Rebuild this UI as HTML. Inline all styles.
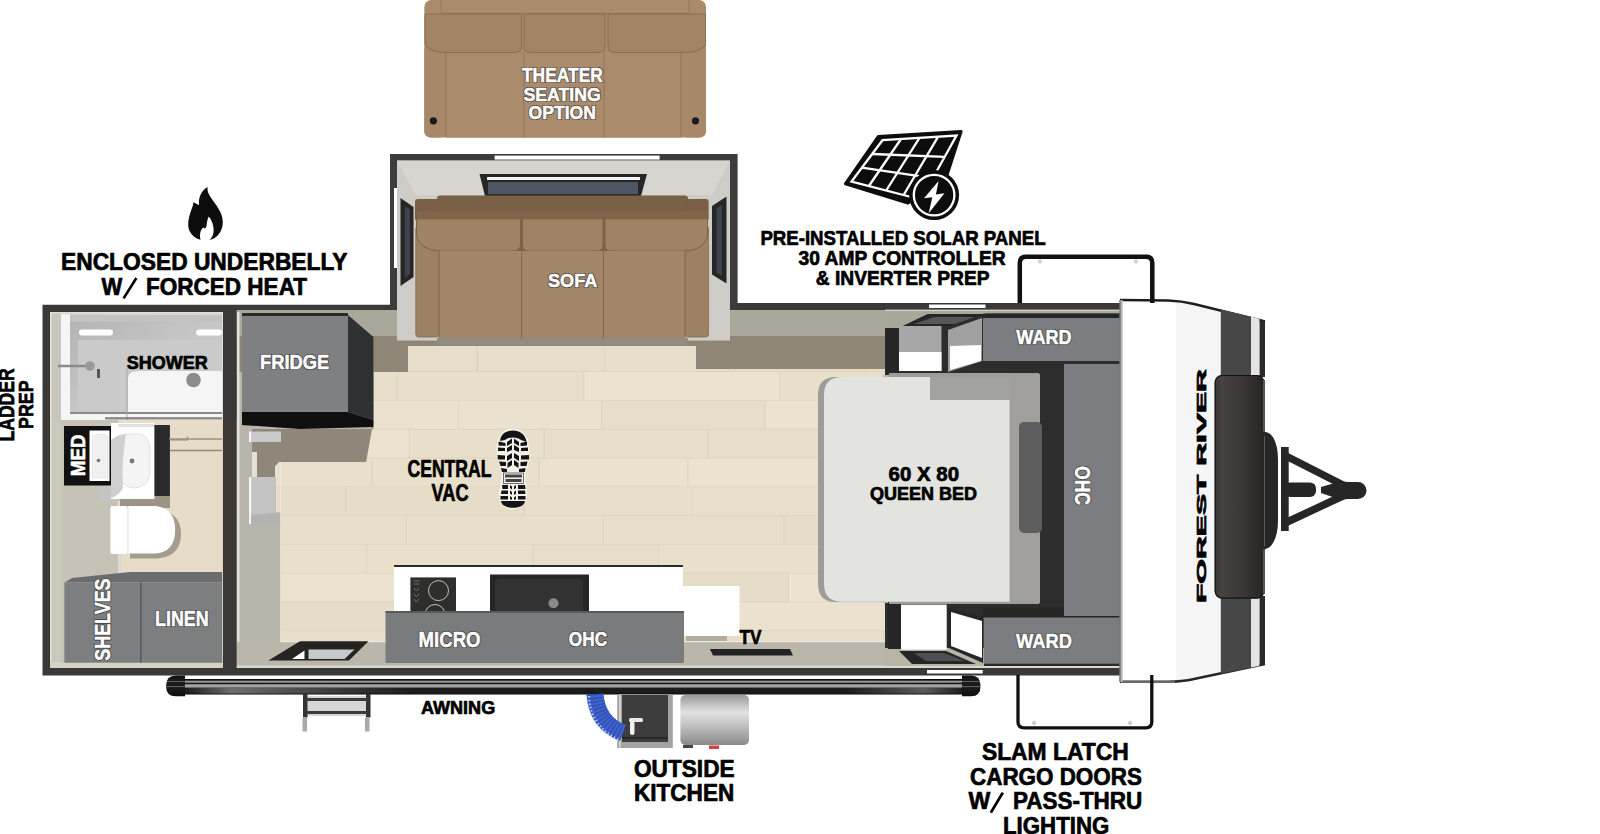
<!DOCTYPE html>
<html><head><meta charset="utf-8"><title>Floorplan</title>
<style>
html,body{margin:0;padding:0;background:#fff;}
body{width:1600px;height:834px;overflow:hidden;}
svg{display:block;}
text{font-family:"Liberation Sans",sans-serif;font-weight:bold;}
</style></head><body>
<svg width="1600" height="834" viewBox="0 0 1600 834">
<defs>
<linearGradient id="gTube" x1="0" y1="0" x2="0" y2="1">
 <stop offset="0" stop-color="#2a2a2a"/><stop offset="0.35" stop-color="#1a1a1a"/>
 <stop offset="0.5" stop-color="#8a8a8a"/><stop offset="0.62" stop-color="#222"/>
 <stop offset="1" stop-color="#111"/></linearGradient>
<linearGradient id="gTank" x1="0" y1="0" x2="0" y2="1">
 <stop offset="0" stop-color="#9a9a9a"/><stop offset="0.35" stop-color="#e2e2e2"/>
 <stop offset="0.7" stop-color="#b5b5b5"/><stop offset="1" stop-color="#8a8a8a"/></linearGradient>
<linearGradient id="gWin" x1="0" y1="0" x2="1" y2="0">
 <stop offset="0" stop-color="#3a3736"/><stop offset="0.15" stop-color="#45423f"/><stop offset="0.6" stop-color="#393534"/><stop offset="1" stop-color="#282424"/></linearGradient>
</defs>
<rect x="0" y="0" width="1600" height="834" fill="#fff"/>
<g id="theater">
<rect x="424.3" y="0" width="281.7" height="137.6" rx="7" fill="#a98a6a"/>
<rect x="441" y="0" width="248" height="13.6" fill="#aa8c6c"/>
<line x1="441" y1="13.4" x2="689" y2="13.4" stroke="#93765a" stroke-width="1"/>
<line x1="441" y1="0" x2="441" y2="13.4" stroke="#93765a" stroke-width="0.8"/>
<line x1="689" y1="0" x2="689" y2="13.4" stroke="#93765a" stroke-width="0.8"/>
<rect x="424.3" y="44" width="21.7" height="93.6" rx="6" fill="#a78868"/>
<rect x="681" y="44" width="25" height="93.6" rx="6" fill="#a78868"/>
<rect x="446" y="52" width="235" height="85.6" fill="#aa8c6d"/>
<line x1="446" y1="50" x2="446" y2="137" stroke="#8e7256" stroke-width="1"/>
<line x1="681" y1="50" x2="681" y2="137" stroke="#8e7256" stroke-width="1"/>
<line x1="524" y1="52" x2="524" y2="137" stroke="#8e7256" stroke-width="0.8"/>
<line x1="604" y1="52" x2="604" y2="137" stroke="#8e7256" stroke-width="0.8"/>
<path d="M425,14 H521.5 V46 Q521.5,52.5 514,52.5 H446 Q428,52 425,44 Z" fill="#a38464" stroke="#8a6d51" stroke-width="1"/>
<path d="M524,14 H605 V46 Q605,52.5 598,52.5 H531 Q524,52.5 524,46 Z" fill="#a38464" stroke="#8a6d51" stroke-width="1"/>
<path d="M608,14 H705.5 V44 Q702,52 686,52.5 H615 Q608,52.5 608,46 Z" fill="#a38464" stroke="#8a6d51" stroke-width="1"/>
<circle cx="433.4" cy="120.8" r="3.6" fill="#1b1820"/>
<circle cx="695.5" cy="120.8" r="3.6" fill="#1b1820"/>
</g>
<g id="body">
<polygon points="42.5,304.8 390,304.8 390,303 1121,303 1121,675.4 42.5,675.4" fill="#3a3937"/>
<!-- bath interior -->
<rect x="50" y="312" width="173" height="356" fill="#cbc8bc"/>
<rect x="50" y="312" width="173" height="1.6" fill="#e2dfd3"/>
<rect x="50" y="312" width="1.6" height="356" fill="#e2dfd3"/>
<rect x="50" y="662" width="173" height="6" fill="#d6d2c4"/>
<rect x="61" y="321" width="161.5" height="342" fill="#c6c2b5"/>
<rect x="118" y="420" width="104.5" height="155" fill="#e6dcc7"/>
<!-- main interior base -->
<rect x="236.5" y="310" width="884.5" height="358" fill="#b9b5a8"/>
</g>
<g id="interior">
<rect x="236.5" y="310" width="650" height="27" fill="#aaa79b"/>
<rect x="236.5" y="336" width="650" height="36" fill="#8e8778"/>
<!-- left wall face -->
<rect x="236.5" y="420" width="45" height="225" fill="#b7b5ac"/>
<rect x="237" y="312" width="2.5" height="352" fill="#e4e2da"/>
<!-- wood floor -->
<clipPath id="woodClip"><polygon points="408,346 696,346 696,369 885,369 885,642 281,642 281,518 275,518 275,466 279,462 366,462 374,420 374,372 408,372"/></clipPath><g clip-path="url(#woodClip)"><rect x="221.4" y="343.0" width="132.1" height="28.8" fill="#ebe2cf"/><rect x="352.7" y="343.0" width="0.8" height="28.8" fill="#dcd2bd"/><rect x="353.5" y="343.0" width="123.9" height="28.8" fill="#e7dec9"/><rect x="476.6" y="343.0" width="0.8" height="28.8" fill="#dcd2bd"/><rect x="477.4" y="343.0" width="127.5" height="28.8" fill="#e7dec9"/><rect x="604.1" y="343.0" width="0.8" height="28.8" fill="#dcd2bd"/><rect x="604.9" y="343.0" width="124.6" height="28.8" fill="#e7dec9"/><rect x="728.7" y="343.0" width="0.8" height="28.8" fill="#dcd2bd"/><rect x="729.5" y="343.0" width="137.2" height="28.8" fill="#e8dfcb"/><rect x="865.9" y="343.0" width="0.8" height="28.8" fill="#dcd2bd"/><rect x="866.7" y="343.0" width="154.7" height="28.8" fill="#e8dfcb"/><rect x="1020.6" y="343.0" width="0.8" height="28.8" fill="#dcd2bd"/><rect x="270" y="371.2" width="620" height="0.7" fill="#ddd3bf"/><rect x="233.9" y="371.8" width="164.1" height="28.8" fill="#e8dfcb"/><rect x="397.2" y="371.8" width="0.8" height="28.8" fill="#dcd2bd"/><rect x="398.0" y="371.8" width="186.1" height="28.8" fill="#e8dfcb"/><rect x="583.3" y="371.8" width="0.8" height="28.8" fill="#dcd2bd"/><rect x="584.1" y="371.8" width="195.8" height="28.8" fill="#ebe2cf"/><rect x="779.1" y="371.8" width="0.8" height="28.8" fill="#dcd2bd"/><rect x="779.9" y="371.8" width="170.2" height="28.8" fill="#e8dfcb"/><rect x="949.3" y="371.8" width="0.8" height="28.8" fill="#dcd2bd"/><rect x="270" y="400.0" width="620" height="0.7" fill="#ddd3bf"/><rect x="183.4" y="400.6" width="151.7" height="28.8" fill="#eae1ce"/><rect x="334.4" y="400.6" width="0.8" height="28.8" fill="#dcd2bd"/><rect x="335.2" y="400.6" width="123.7" height="28.8" fill="#eae1ce"/><rect x="458.1" y="400.6" width="0.8" height="28.8" fill="#dcd2bd"/><rect x="458.9" y="400.6" width="143.2" height="28.8" fill="#eae1ce"/><rect x="601.3" y="400.6" width="0.8" height="28.8" fill="#dcd2bd"/><rect x="602.1" y="400.6" width="163.3" height="28.8" fill="#e7dec9"/><rect x="764.5" y="400.6" width="0.8" height="28.8" fill="#dcd2bd"/><rect x="765.3" y="400.6" width="144.7" height="28.8" fill="#ebe2cf"/><rect x="909.2" y="400.6" width="0.8" height="28.8" fill="#dcd2bd"/><rect x="270" y="428.8" width="620" height="0.7" fill="#ddd3bf"/><rect x="242.9" y="429.4" width="166.5" height="28.8" fill="#ebe2cf"/><rect x="408.6" y="429.4" width="0.8" height="28.8" fill="#dcd2bd"/><rect x="409.4" y="429.4" width="135.0" height="28.8" fill="#e8dfcb"/><rect x="543.6" y="429.4" width="0.8" height="28.8" fill="#dcd2bd"/><rect x="544.4" y="429.4" width="163.8" height="28.8" fill="#e8dfcb"/><rect x="707.5" y="429.4" width="0.8" height="28.8" fill="#dcd2bd"/><rect x="708.3" y="429.4" width="165.1" height="28.8" fill="#e7dec9"/><rect x="872.6" y="429.4" width="0.8" height="28.8" fill="#dcd2bd"/><rect x="873.4" y="429.4" width="136.5" height="28.8" fill="#ebe2cf"/><rect x="1009.1" y="429.4" width="0.8" height="28.8" fill="#dcd2bd"/><rect x="270" y="457.6" width="620" height="0.7" fill="#ddd3bf"/><rect x="190.2" y="458.2" width="182.2" height="28.8" fill="#e9e0cc"/><rect x="371.6" y="458.2" width="0.8" height="28.8" fill="#dcd2bd"/><rect x="372.4" y="458.2" width="166.8" height="28.8" fill="#e9e0cc"/><rect x="538.5" y="458.2" width="0.8" height="28.8" fill="#dcd2bd"/><rect x="539.3" y="458.2" width="148.9" height="28.8" fill="#eae1ce"/><rect x="687.4" y="458.2" width="0.8" height="28.8" fill="#dcd2bd"/><rect x="688.2" y="458.2" width="183.6" height="28.8" fill="#ebe2cf"/><rect x="870.9" y="458.2" width="0.8" height="28.8" fill="#dcd2bd"/><rect x="871.7" y="458.2" width="182.4" height="28.8" fill="#e8dfcb"/><rect x="1053.3" y="458.2" width="0.8" height="28.8" fill="#dcd2bd"/><rect x="270" y="486.4" width="620" height="0.7" fill="#ddd3bf"/><rect x="183.8" y="487.0" width="162.0" height="28.8" fill="#e6ddc8"/><rect x="345.1" y="487.0" width="0.8" height="28.8" fill="#dcd2bd"/><rect x="345.9" y="487.0" width="178.4" height="28.8" fill="#e6ddc8"/><rect x="523.4" y="487.0" width="0.8" height="28.8" fill="#dcd2bd"/><rect x="524.2" y="487.0" width="168.7" height="28.8" fill="#e8dfcb"/><rect x="692.1" y="487.0" width="0.8" height="28.8" fill="#dcd2bd"/><rect x="692.9" y="487.0" width="129.4" height="28.8" fill="#e9e0cc"/><rect x="821.6" y="487.0" width="0.8" height="28.8" fill="#dcd2bd"/><rect x="822.4" y="487.0" width="133.2" height="28.8" fill="#e6ddc8"/><rect x="954.8" y="487.0" width="0.8" height="28.8" fill="#dcd2bd"/><rect x="270" y="515.2" width="620" height="0.7" fill="#ddd3bf"/><rect x="247.2" y="515.8" width="159.1" height="28.8" fill="#e8dfcb"/><rect x="405.5" y="515.8" width="0.8" height="28.8" fill="#dcd2bd"/><rect x="406.3" y="515.8" width="197.0" height="28.8" fill="#e8dfcb"/><rect x="602.5" y="515.8" width="0.8" height="28.8" fill="#dcd2bd"/><rect x="603.3" y="515.8" width="181.2" height="28.8" fill="#e7dec9"/><rect x="783.6" y="515.8" width="0.8" height="28.8" fill="#dcd2bd"/><rect x="784.4" y="515.8" width="183.1" height="28.8" fill="#e6ddc8"/><rect x="966.8" y="515.8" width="0.8" height="28.8" fill="#dcd2bd"/><rect x="270" y="544.0" width="620" height="0.7" fill="#ddd3bf"/><rect x="219.0" y="544.6" width="148.0" height="28.8" fill="#e9e0cc"/><rect x="366.2" y="544.6" width="0.8" height="28.8" fill="#dcd2bd"/><rect x="367.0" y="544.6" width="166.4" height="28.8" fill="#e9e0cc"/><rect x="532.6" y="544.6" width="0.8" height="28.8" fill="#dcd2bd"/><rect x="533.4" y="544.6" width="125.5" height="28.8" fill="#e8dfcb"/><rect x="658.1" y="544.6" width="0.8" height="28.8" fill="#dcd2bd"/><rect x="658.9" y="544.6" width="195.6" height="28.8" fill="#e9e0cc"/><rect x="853.7" y="544.6" width="0.8" height="28.8" fill="#dcd2bd"/><rect x="854.5" y="544.6" width="175.8" height="28.8" fill="#e8dfcb"/><rect x="1029.4" y="544.6" width="0.8" height="28.8" fill="#dcd2bd"/><rect x="270" y="572.8" width="620" height="0.7" fill="#ddd3bf"/><rect x="260.9" y="573.4" width="176.1" height="28.8" fill="#ebe2cf"/><rect x="436.2" y="573.4" width="0.8" height="28.8" fill="#dcd2bd"/><rect x="437.0" y="573.4" width="166.2" height="28.8" fill="#ebe2cf"/><rect x="602.5" y="573.4" width="0.8" height="28.8" fill="#dcd2bd"/><rect x="603.3" y="573.4" width="185.8" height="28.8" fill="#e6ddc8"/><rect x="788.2" y="573.4" width="0.8" height="28.8" fill="#dcd2bd"/><rect x="789.0" y="573.4" width="177.3" height="28.8" fill="#ebe2cf"/><rect x="965.5" y="573.4" width="0.8" height="28.8" fill="#dcd2bd"/><rect x="270" y="601.6" width="620" height="0.7" fill="#ddd3bf"/><rect x="217.9" y="602.2" width="195.3" height="28.8" fill="#e6ddc8"/><rect x="412.4" y="602.2" width="0.8" height="28.8" fill="#dcd2bd"/><rect x="413.2" y="602.2" width="133.4" height="28.8" fill="#e8dfcb"/><rect x="545.8" y="602.2" width="0.8" height="28.8" fill="#dcd2bd"/><rect x="546.6" y="602.2" width="159.5" height="28.8" fill="#eae1ce"/><rect x="705.3" y="602.2" width="0.8" height="28.8" fill="#dcd2bd"/><rect x="706.1" y="602.2" width="181.5" height="28.8" fill="#eae1ce"/><rect x="886.8" y="602.2" width="0.8" height="28.8" fill="#dcd2bd"/><rect x="887.6" y="602.2" width="179.1" height="28.8" fill="#e9e0cc"/><rect x="1065.9" y="602.2" width="0.8" height="28.8" fill="#dcd2bd"/><rect x="270" y="630.4" width="620" height="0.7" fill="#ddd3bf"/><rect x="211.4" y="631.0" width="189.7" height="28.8" fill="#e8dfcb"/><rect x="400.3" y="631.0" width="0.8" height="28.8" fill="#dcd2bd"/><rect x="401.1" y="631.0" width="133.3" height="28.8" fill="#e9e0cc"/><rect x="533.6" y="631.0" width="0.8" height="28.8" fill="#dcd2bd"/><rect x="534.4" y="631.0" width="164.0" height="28.8" fill="#eae1ce"/><rect x="697.5" y="631.0" width="0.8" height="28.8" fill="#dcd2bd"/><rect x="698.3" y="631.0" width="185.5" height="28.8" fill="#e7dec9"/><rect x="883.1" y="631.0" width="0.8" height="28.8" fill="#dcd2bd"/><rect x="883.9" y="631.0" width="142.3" height="28.8" fill="#e9e0cc"/><rect x="1025.4" y="631.0" width="0.8" height="28.8" fill="#dcd2bd"/><rect x="270" y="659.2" width="620" height="0.7" fill="#ddd3bf"/></g>
<!-- shadow under fridge -->
<polygon points="252,429 373.4,429 373.4,420 366,462 279,462 275,466 275,478 252,478" fill="#8f887a"/>
<!-- left cabinet -->
<rect x="249" y="431.5" width="32" height="10.5" fill="#cacaca"/>
<rect x="249" y="431.5" width="2" height="10.5" fill="#f4f4f4"/>
<rect x="252" y="452" width="5" height="25" fill="#e4e0d4"/>
<rect x="249" y="477" width="27" height="47" fill="#c3c3c3"/>
<rect x="249" y="477" width="2.2" height="47" fill="#f4f4f4"/>
<polygon points="251,515 281,512 281,525 251,525" fill="#b3b3b1"/>
<!-- bottom greige band -->
<rect x="236.5" y="642" width="650" height="25" fill="#bab6a9"/>
<rect x="236.5" y="665.5" width="884" height="2.5" fill="#dad7cd"/>
<!-- entry step -->
<rect x="281" y="641" width="604" height="1.2" fill="#f0ece2"/>
<rect x="280" y="462" width="1.2" height="180" fill="#f0ece2" opacity="0.7"/>
<polygon points="268.4,660.5 300,641.3 368.5,641.3 349,660.5" fill="#262423"/>
<polygon points="308.5,649.5 354.5,649.5 344.5,659 308.5,659" fill="#c6c8c9"/>
<polygon points="292,659 304.5,650.5 304.5,659" fill="#fff"/>
<!-- fridge -->
<rect x="242" y="315" width="106" height="97" fill="#7f8082"/>
<polygon points="348,315 373.4,337 373.4,420 348,412" fill="#2f3032"/>
<polygon points="242,412 348,412 373.4,420 373.4,427 300,429 242,425" fill="#0f0f0f"/>
<rect x="242" y="313" width="106" height="3" fill="#2a2a2a"/>
<!-- kitchen -->
<rect x="394" y="565" width="289" height="3" fill="#2b2b2b"/>
<rect x="394" y="567" width="289" height="44" fill="#fff"/>
<rect x="683" y="586" width="56.5" height="50" fill="#fff"/>
<rect x="686" y="636" width="41" height="5" fill="#b0ad9e"/>
<rect x="410.4" y="577.4" width="45.6" height="34" fill="#2e2e2c"/>
<circle cx="438.5" cy="590.6" r="10" fill="none" stroke="#d9d2bd" stroke-width="0.9"/>
<circle cx="435" cy="614.5" r="10" fill="none" stroke="#d9d2bd" stroke-width="0.9"/>
<g fill="none" stroke="#8a8a80" stroke-width="0.7"><path d="M413.5,581 h6 M413.5,584 h6 M414,588 l2.5,3 l2.5,-3 M414,594 l2.5,3 l2.5,-3 M414,599 l2.5,3 l2.5,-3"/></g>
<rect x="490" y="574.5" width="99" height="37" fill="#262626"/>
<rect x="495" y="579" width="88" height="33" rx="4" fill="#323232"/>
<circle cx="553.5" cy="603.3" r="5" fill="#8a8a8a"/>
<rect x="385.5" y="611" width="298.5" height="52" rx="1.5" fill="#7a7b7d"/>
<rect x="385.5" y="611" width="298.5" height="2" fill="#5a5b5d"/>
<!-- TV -->
<polygon points="710,649 790,649 793,655.5 713,655.5" fill="#232323"/>
</g>
<g id="slide">
<rect x="390" y="154" width="347.6" height="156" fill="#3d3c3a"/>
<rect x="494.6" y="155.6" width="165" height="4" fill="#fff"/>
<rect x="394" y="188" width="3" height="80" fill="#fff"/>
<rect x="397" y="160.6" width="333" height="180" fill="#cdccc6"/>
<polygon points="397,160.6 730,160.6 712,195 415,195" fill="#d6d5d0"/>
<polygon points="479.5,174 647,174 641,196 485,196" fill="#262626"/>
<rect x="487" y="177" width="153" height="3" fill="#f4f4f4"/>
<rect x="488" y="182" width="150" height="12" fill="#4f5663"/>
<polygon points="400.5,198 413.5,207 413.5,277 400.5,286" fill="#262626"/>
<polygon points="405,206 410,209.5 410,274 405,278" fill="#3d434d"/>
<polygon points="726.5,196.6 712,206 712,274.5 726.5,283.5" fill="#262626"/>
<polygon points="722,205 716.5,208.5 716.5,272.5 722,276" fill="#3d434d"/>
</g>
<g id="sofa">
<rect x="415" y="199" width="24" height="22" rx="3" fill="#7a5f46"/>
<rect x="437" y="195.6" width="251" height="23" rx="3" fill="#7b6048"/>
<rect x="686" y="199" width="22.6" height="22" rx="3" fill="#7a5f46"/>
<rect x="417" y="211" width="290" height="8" fill="#80654b"/>
<rect x="417" y="218" width="290" height="33" fill="#7f6348"/>
<rect x="415.8" y="226" width="23.5" height="111" rx="3" fill="#9e8163" stroke="#86694e" stroke-width="0.8"/>
<rect x="685" y="226" width="23.5" height="111" rx="3" fill="#9e8163" stroke="#86694e" stroke-width="0.8"/>
<path d="M416.5,218.8 H520.5 V244 Q520.5,251 513,251 H440 Q420,250 416.5,236 Z" fill="#a08365" stroke="#7e6248" stroke-width="1"/>
<path d="M522.5,218.8 H603 V245 Q603,251 597,251 H529 Q522.5,251 522.5,245 Z" fill="#a08365" stroke="#7e6248" stroke-width="1"/>
<path d="M605,218.8 H707.5 V236 Q704,250 686,251 H611 Q605,251 605,245 Z" fill="#a08365" stroke="#7e6248" stroke-width="1"/>
<rect x="439" y="251" width="246" height="87.8" fill="#a38667"/>
<rect x="437" y="338" width="251" height="8" fill="#918c81"/>
<line x1="521.5" y1="251" x2="521.5" y2="339" stroke="#84674c" stroke-width="1"/>
<line x1="603.5" y1="251" x2="603.5" y2="339" stroke="#84674c" stroke-width="1"/>
<line x1="439.3" y1="251" x2="439.3" y2="338" stroke="#84674c" stroke-width="0.8"/>
<line x1="685" y1="251" x2="685" y2="338" stroke="#84674c" stroke-width="0.8"/>
</g>
<g id="bedroom">
<rect x="885" y="311" width="236" height="355" fill="#2d2d2d"/>
<rect x="885" y="310" width="236" height="3.5" fill="#a9a69a"/>
<polygon points="885,310 985,310 985,314 928,314 903,326 899,328 885,328" fill="#a9a69a"/>
<rect x="885" y="309.6" width="236" height="1.4" fill="#d3d1c8"/>
<rect x="929" y="304.5" width="56.5" height="3.5" fill="#fff"/>
<rect x="927" y="670" width="55.7" height="3.5" fill="#fff"/>
<rect x="883" y="375" width="8" height="228" fill="#b9b5a8"/>
<!-- top nightstand -->
<rect x="886" y="328" width="13" height="47" fill="#262626"/>
<rect x="899" y="326" width="42.5" height="45" fill="#a7a7a7"/>
<rect x="899" y="352" width="42.5" height="19" fill="#fff"/>
<polygon points="903,326 928,314 985,314 950,326" fill="#262626"/>
<polygon points="914,324 934,317 975,317 955,324" fill="#55575b"/>
<polygon points="948,330 982,318 982,361 948,372" fill="#a0a0a0"/>
<polygon points="950,346 981,345 981,361 950,370" fill="#fff"/>
<!-- top ward -->
<rect x="983" y="313.7" width="138" height="4.5" fill="#262626"/>
<rect x="983" y="318" width="138" height="43" fill="#7c7d80"/>
<!-- bottom nightstand -->
<rect x="885" y="648" width="99" height="18" fill="#b8b4a8"/>
<rect x="888" y="602" width="13.2" height="47" fill="#262626"/>
<rect x="901" y="604.6" width="45.7" height="45" fill="#fff"/>
<polygon points="899,651 946,651 976,664 912,664" fill="#262626"/>
<polygon points="914,653 944,653 965,661 926,661" fill="#4d4f55"/>
<polygon points="949,608 983,617 983,663 949,648" fill="#262626"/>
<polygon points="951,612 982,621 982,658 951,646" fill="#fff"/>
<!-- bottom ward -->
<rect x="983" y="607.5" width="138" height="10" fill="#262626"/>
<rect x="983.7" y="617.5" width="137" height="46.2" fill="#7c7d80"/>
<!-- OHC -->
<rect x="1064" y="364" width="57" height="252" fill="#7c7d80"/>
<!-- bed -->
<rect x="889" y="373" width="150" height="231" fill="#9c9c99"/>
<rect x="1009" y="374" width="31" height="229" fill="#a09f9b"/>
<rect x="1019" y="422" width="23" height="111" rx="5" fill="#5d5d5d"/>
<path d="M836,377 H930 V400 H1010 V602 H836 Q818,602 818,584 V395 Q818,377 836,377 Z" fill="#9e9c96"/>
<path d="M842,377 H930 V400 H1009.6 V601.7 H842 Q824,601.7 824,584 V395 Q824,377 842,377 Z" fill="#e3e3e0"/>
<rect x="930" y="377" width="80" height="23" fill="#a2a29f"/>
</g>
<g id="front">
<path d="M1120,300 L1168,300.5 Q1182,301 1194,304 L1265,321.5 L1265,664 L1194,679 Q1182,681.8 1168,681.8 L1120,681.8 Z" fill="#fff"/>
<polygon points="1176,302 1194,305 1220.8,311.5 1220.8,673 1194,678.5 1176,680.5" fill="#f5f5f5"/>
<path d="M1120,300 L1168,300.5 Q1182,301 1194,304 L1265,321.5" fill="none" stroke="#1e1e1e" stroke-width="2.6"/>
<path d="M1120,681.8 L1168,681.8 Q1182,681.8 1194,679 L1265,664" fill="none" stroke="#262626" stroke-width="2.4"/>
<path d="M1121,682 L1175,682" stroke="#aaa" stroke-width="1.2"/>
<rect x="1119.5" y="300" width="3.2" height="382" fill="#b9b9b9"/>
<rect x="1119.5" y="300" width="1" height="382" fill="#555"/>
<polygon points="1220.8,309.5 1251,316.8 1251,377 1220.8,377" fill="#474747"/>
<polygon points="1251,316.8 1259.6,319 1259.6,377 1251,377" fill="#e4e4e4"/>
<polygon points="1259.6,319 1265,321 1265,377 1259.6,377" fill="#2a2a2a"/>
<polygon points="1220.8,596 1251,596 1251,667.5 1220.8,673.8" fill="#474747"/>
<polygon points="1251,596 1259.6,596 1259.6,665.7 1251,667.5" fill="#e4e4e4"/>
<polygon points="1259.6,596 1265,596 1265,664.3 1259.6,665.7" fill="#2a2a2a"/>
<rect x="1214.7" y="375" width="49.5" height="223.6" rx="7" fill="url(#gWin)"/>
<rect x="1215.2" y="375.5" width="48.5" height="222.6" rx="7" fill="none" stroke="#151515" stroke-width="1.2"/>
<rect x="1263" y="380" width="2" height="214" fill="#555"/>
</g>
<g id="hitch" fill="#262626">
<path d="M1263,431.5 Q1270,432 1273.5,438 Q1278,446 1278,460 V520 Q1278,534 1273.5,542 Q1270,549 1263,549.5 Z"/>
<rect x="1281" y="447" width="7.7" height="84"/>
<line x1="1285" y1="455.5" x2="1346" y2="486.5" stroke="#262626" stroke-width="7.5"/>
<line x1="1285" y1="523" x2="1346" y2="494.5" stroke="#262626" stroke-width="7.5"/>
<rect x="1284" y="482.5" width="32" height="14.5" rx="6"/>
<polygon points="1321,487 1340,481.5 1350,482 1350,499 1340,499.5 1321,493"/>
<rect x="1334" y="482" width="32.5" height="17" rx="8.5"/>
<path d="M1264.5,436 V546" stroke="#5a5a5a" stroke-width="1"/>
</g>
<defs>
<linearGradient id="gTube2" x1="0" y1="679" x2="0" y2="694.5" gradientUnits="userSpaceOnUse">
 <stop offset="0" stop-color="#0a0a0a"/><stop offset="0.09" stop-color="#111"/>
 <stop offset="0.11" stop-color="#9a9a9a"/><stop offset="0.22" stop-color="#999"/>
 <stop offset="0.24" stop-color="#151515"/><stop offset="0.34" stop-color="#151515"/>
 <stop offset="0.36" stop-color="#a8a8a8"/><stop offset="0.54" stop-color="#a0a0a0"/>
 <stop offset="0.56" stop-color="#1c1c1c"/><stop offset="0.9" stop-color="#1a1a1a"/>
 <stop offset="1" stop-color="#050505"/></linearGradient>
<linearGradient id="gTubeLow" x1="0" y1="0" x2="1" y2="0">
 <stop offset="0" stop-color="#777" stop-opacity="0"/><stop offset="0.06" stop-color="#777" stop-opacity="0.9"/>
 <stop offset="0.3" stop-color="#666" stop-opacity="0.0"/>
 <stop offset="0.85" stop-color="#777" stop-opacity="0"/><stop offset="0.95" stop-color="#777" stop-opacity="0.7"/>
 <stop offset="1" stop-color="#777" stop-opacity="0"/></linearGradient>
<linearGradient id="gCap" x1="0" y1="0" x2="0" y2="1">
 <stop offset="0" stop-color="#111"/><stop offset="0.25" stop-color="#1a1a1a"/>
 <stop offset="0.28" stop-color="#666"/><stop offset="0.33" stop-color="#1a1a1a"/>
 <stop offset="0.5" stop-color="#1a1a1a"/><stop offset="0.53" stop-color="#666"/>
 <stop offset="0.58" stop-color="#1c1c1c"/><stop offset="1" stop-color="#0c0c0c"/></linearGradient>
<linearGradient id="gHose" x1="0" y1="0" x2="1" y2="1">
 <stop offset="0" stop-color="#4a6fd8"/><stop offset="1" stop-color="#2d4fb5"/></linearGradient>
</defs>
<g id="outside">
<rect x="176" y="679" width="794" height="15.5" fill="url(#gTube2)"/>
<rect x="185" y="687.5" width="778" height="6" fill="url(#gTubeLow)"/>
<path d="M185,675.6 V696.3 H176 Q166,696.3 166,686 Q166,675.6 176,675.6 Z" fill="url(#gCap)"/>
<path d="M962,675.6 V696.3 H971 Q980.6,696.3 980.6,686 Q980.6,675.6 971,675.6 Z" fill="url(#gCap)"/>
<!-- steps -->
<rect x="306" y="696" width="62" height="20" fill="#d6d6d6"/>
<rect x="303" y="694" width="4.5" height="23.5" fill="#333"/>
<rect x="366" y="694" width="4.5" height="23.5" fill="#333"/>
<rect x="306" y="698" width="62" height="3" fill="#3b3b3b"/>
<rect x="306" y="711" width="62" height="3" fill="#3b3b3b"/>
<rect x="302.5" y="717.5" width="4.5" height="14" fill="#a9a9a9"/>
<rect x="365" y="717.5" width="4.5" height="14" fill="#a9a9a9"/>
<!-- outside kitchen -->
<rect x="617.2" y="694.6" width="55.6" height="53.4" fill="#a3a3a3"/>
<rect x="619" y="694.6" width="2" height="53" fill="#d0d0d0"/>
<rect x="622" y="695" width="46" height="47" fill="#3d3d3d"/>
<rect x="622" y="737" width="46" height="2" fill="#2a2a2a"/>
<rect x="680.4" y="695" width="68.6" height="50" rx="5" fill="url(#gTank)"/>
<rect x="683" y="745" width="10" height="3" fill="#444"/>
<rect x="709" y="745.5" width="10" height="3.5" fill="#c44"/>
<path d="M595,694 Q597,723 623,733" fill="none" stroke="#3f62cc" stroke-width="17"/>
<path d="M595,694 Q597,723 623,733" fill="none" stroke="#243f9c" stroke-width="17" stroke-dasharray="1.3 2.3" opacity="0.6"/>
<path d="M589,696 Q590,726 619,740" fill="none" stroke="#dfe6ff" stroke-width="2.2" stroke-dasharray="1.4 2.2" opacity="0.8"/>
<rect x="629" y="718" width="14" height="4" rx="1.5" fill="#e8e8e8"/>
<rect x="630" y="721" width="4.5" height="14" rx="2" fill="#f0f0f0"/>
</g>
<g id="cargo" fill="none" stroke="#111" stroke-width="4.5">
<path d="M1019.8,303 V263 Q1019.8,256.8 1026,256.8 H1146 Q1152.3,256.8 1152.3,263 V303"/>
<path d="M1018,675 V722 Q1018,727.8 1024.5,727.8 H1145.5 Q1151.8,727.8 1151.8,722 V675" stroke-width="3.3"/>
</g>
<g fill="#ddd" stroke="#aaa" stroke-width="0.6">
<circle cx="1040" cy="261.5" r="1.6"/><circle cx="1136" cy="261.5" r="1.6"/>
<circle cx="1034" cy="723" r="1.6"/><circle cx="1130" cy="723" r="1.6"/>
</g>
<g id="bath">
<!-- inner wall -->
<rect x="223" y="305" width="13.5" height="370" fill="#3a3937"/>
<!-- shower -->
<polygon points="52,313.5 222.5,313.5 222.5,322 61,322 61,420 52,420" fill="#c9c7bd"/>
<rect x="61" y="314" width="161.5" height="106" fill="#f5f5f5"/>
<rect x="61" y="313.5" width="161.5" height="1.2" fill="#e6e4dc"/>
<defs><linearGradient id="gShw" x1="0" y1="0" x2="1" y2="1"><stop offset="0" stop-color="#b3b3b3"/><stop offset="0.5" stop-color="#c6c6c6"/><stop offset="1" stop-color="#cdcdcd"/></linearGradient></defs>
<path d="M70,314.7 H222 V371 H138 Q128,371 128,378 V414 H70 Z" fill="url(#gShw)"/>
<rect x="70" y="314.7" width="152" height="7" fill="#c3c3c1"/>
<path d="M78,340 H222 V371 H138 Q128,371 128,378 V410 H78 Z" fill="#cacaca"/>
<rect x="79" y="329.5" width="34" height="6" rx="3" fill="#fff"/>
<rect x="196" y="329.5" width="26" height="6" rx="3" fill="#fff"/>
<circle cx="193.5" cy="380" r="7.3" fill="#8c8c8c"/>
<line x1="58" y1="366" x2="88" y2="366" stroke="#8a8a8a" stroke-width="2.5"/>
<circle cx="90" cy="366" r="4.8" fill="#9a9a9a"/>
<rect x="97" y="369" width="3" height="9" fill="#555"/>
<line x1="70" y1="413" x2="222" y2="413" stroke="#8a8a8a" stroke-width="2"/>
<line x1="127" y1="368" x2="127" y2="420" stroke="#a9a9a9" stroke-width="1"/>
<!-- sink -->
<rect x="98" y="423" width="56" height="78" fill="#c4c4c2"/>
<rect x="120" y="496" width="50" height="12" fill="#9b9485"/>
<rect x="111" y="423" width="43.5" height="76" fill="#fff"/>
<rect x="118" y="424" width="37" height="3" fill="#e0e0e0"/>
<path d="M125,434 H140 Q150,436 150,452 V470 Q150,487 135,488 Q123,488 121,478 Z" fill="#f4f4f4" stroke="#e2e2e2" stroke-width="1"/>
<path d="M111,440 Q118,434 126,434 Q121,460 123,488 Q118,496 111,498 Z" fill="#cfcfcf"/>
<circle cx="132" cy="461" r="2.4" fill="#777"/>
<rect x="154.4" y="425" width="15.5" height="71" fill="#2a2a2c"/>
<path d="M170,439.8 H187.5 V436.5" fill="none" stroke="#958a78" stroke-width="1.3"/>
<line x1="170" y1="450.6" x2="222" y2="450.6" stroke="#958a78" stroke-width="1.5"/>
<line x1="105" y1="419" x2="222" y2="419" stroke="#888" stroke-width="1.2"/>
<!-- med cabinet -->
<rect x="64" y="426" width="47" height="59.5" fill="#111"/>
<rect x="89.5" y="430.5" width="20" height="50.5" fill="#fff"/>
<path d="M92,436 Q100,432 108,436 V478 H92 Z" fill="#f0f0f0" stroke="#ddd" stroke-width="0.6"/>
<circle cx="98.5" cy="460.5" r="1.8" fill="#777"/>
<line x1="169" y1="439" x2="222" y2="439" stroke="#9c917f" stroke-width="1.5"/>
<line x1="105" y1="418" x2="222" y2="418" stroke="#777" stroke-width="1.5"/>
<!-- toilet -->
<path d="M130,510 H158 Q181,512 181,534 Q181,556 158,558.5 H130 Z" fill="#a49d8f"/>
<rect x="119" y="554" width="2.2" height="20" fill="#d8d8d8"/>
<rect x="110.4" y="506" width="17.3" height="48" rx="2" fill="#fff"/>
<path d="M127.7,506 H155 Q175.2,508 175.2,530 Q175.2,552 155,553.6 H127.7 Z" fill="#fff"/>
<line x1="128" y1="506" x2="128" y2="553.6" stroke="#dadada" stroke-width="0.8"/>
<!-- shelves / linen -->
<polygon points="64.4,582.6 72,578 130,572 222,572 222,582.6" fill="#6b6c6e"/>
<rect x="64.4" y="582.6" width="157.6" height="80.1" fill="#7d7e80"/>
<rect x="140" y="582.6" width="1.6" height="80" fill="#58595b"/>
</g>
<g id="icons">
<!-- flame -->
<path d="M207.6,187 C202,190 198,197 199.1,205.3 L193.6,202.2 C192.5,209 188.2,215 188.2,225 C188.2,232 193.5,238 200.6,239.8 C199.3,235 200.3,229.5 203.4,227.5 C204.5,229 206,228.5 206.5,226 C207,222 207.5,219 208.8,216.6 C212.5,221 214.3,228 213.4,233 C212.8,236.5 211,238.8 209.2,240 C217,238.5 222.8,231.5 222.8,222 C222.8,212 215,204 210.5,197 C208,193 207,190 207.6,187 Z" fill="#0d0d0d"/>
<!-- solar panel -->
<polygon points="878.4,136.4 961.1,131.6 946.7,176 908,203 845.4,183.8" fill="#0d0d0d" stroke="#0d0d0d" stroke-width="3" stroke-linejoin="round"/>
<g stroke="#fff" stroke-width="2.3" fill="none">
<polygon points="882.5,140.2 956.5,135.6 921,199.5 851.5,181.5"/>
<line x1="901.0" y1="139.0" x2="868.9" y2="186.0"/><line x1="919.5" y1="137.9" x2="886.2" y2="190.5"/><line x1="938.0" y1="136.8" x2="903.6" y2="195.0"/><line x1="872.2" y1="154.0" x2="944.7" y2="156.9"/><line x1="861.8" y1="167.7" x2="932.8" y2="178.2"/>
</g>
<circle cx="934.1" cy="195.1" r="25" fill="#0d0d0d"/>
<circle cx="934.1" cy="195.1" r="20.3" fill="none" stroke="#fff" stroke-width="2.3"/>
<polygon points="938.6,181 924,198.3 932.3,197.2 928.7,213.3 944.5,193.2 935.9,194.4" fill="#fff"/>
<!-- boot -->
<g id="boot">
<path d="M513,428.5 C523,428.5 529.5,437 529.5,452 C529.5,462 527,468 525.5,474 C524.5,480 527,486 527,494 C527,503 521,509.5 512.5,509.5 C504,509.5 498.5,503 499,494 C499.5,486 502,481 501.5,474 C501,466 496.5,460 496.5,450 C496.5,436 503,428.5 513,428.5 Z" fill="#f4f1ea"/>
<g fill="#141414">
<path d="M500,441 C500.5,434 506,430.5 513,430.5 C520,430.5 525.5,434.5 526.5,442 L521,440 C518,437 509,436.5 505,440 Z"/>
<polygon points="498.5,441.5 505.5,443 505.5,446 498.5,445.5"/>
<polygon points="520.5,443 527,441.5 527,445.5 520.5,446"/>
<polygon points="507,442 512,438.5 512,443 507,446"/>
<polygon points="514,438.5 519,442 519,446 514,443"/>
<polygon points="498,447.5 505,448 505,451 498,451"/>
<polygon points="521,448 528,447.5 528,451 521,451"/>
<polygon points="507,448 512,445 512,450 507,452"/>
<polygon points="514,445 519,448 519,452 514,450"/>
<polygon points="497.5,455 505,455.5 505,459.5 498,459.5"/>
<polygon points="521,455.5 529,455 529,459.5 521,459.5"/>
<polygon points="507,456 512,453 512,458 507,461"/>
<polygon points="514,453 519,456 519,461 514,458"/>
<polygon points="499,461.5 506,462 506,466 500.5,466"/>
<polygon points="520.5,462 527.5,461.5 526.5,466 520.5,466"/>
<polygon points="507.5,463 512,460 512,465 507.5,468"/>
<polygon points="514,460 518.5,463 518.5,468 514,465"/>
<polygon points="501,468 507,469 507,472 502,472"/>
<polygon points="519,469 525.5,468 525,472 519,472"/>
<rect x="503.5" y="473" width="20" height="10.5" fill="#f4f1ea" stroke="#141414" stroke-width="0.6"/>
<rect x="505" y="474.5" width="17" height="3" fill="#444"/>
<rect x="505.5" y="479" width="16" height="3" fill="#444"/>
<polygon points="502,485 508,485 508,489 502.5,489"/>
<polygon points="518,485 525,485 525.5,489 518,489"/>
<polygon points="510,485 512,486.5 512,489.5 510,488"/>
<polygon points="514,486.5 516,485 516,488 514,489.5"/>
<polygon points="501.5,490.5 508,490.5 508,494 501,494"/>
<polygon points="518,490.5 525,490.5 525.5,494 518,494"/>
<polygon points="510,490.5 512,492 512,495 510,493.5"/>
<polygon points="514,492 516,490.5 516,493.5 514,495"/>
<polygon points="500.5,496 508,496 508,499.5 500.5,499.5"/>
<polygon points="518,496 525.5,496 525.5,499.5 518,499.5"/>
<polygon points="510,496 512,497.5 512,500 510,499"/>
<polygon points="514,497.5 516,496 516,499 514,500"/>
<path d="M501,501 L525,501 C524.5,505 520,507.8 513,507.8 C506,507.8 501.5,505 501,501 Z"/>
</g>
</g>
</g>
<text x="204.25" y="270.00" font-size="23.40" text-anchor="middle" textLength="286.50" lengthAdjust="spacingAndGlyphs" fill="#000" stroke="#000" stroke-width="0.7" stroke-linejoin="round">ENCLOSED UNDERBELLY</text><text x="111.90" y="294.60" font-size="23.26" text-anchor="middle" textLength="20.80" lengthAdjust="spacingAndGlyphs" fill="#000" stroke="#000" stroke-width="0.7" stroke-linejoin="round">W</text><line x1="136.4" y1="278" x2="123.6" y2="298.4" stroke="#000" stroke-width="2.6"/><text x="226.50" y="294.60" font-size="23.26" text-anchor="middle" textLength="161.00" lengthAdjust="spacingAndGlyphs" fill="#000" stroke="#000" stroke-width="0.7" stroke-linejoin="round">FORCED HEAT</text><text x="903.00" y="245.20" font-size="20.64" text-anchor="middle" textLength="285.20" lengthAdjust="spacingAndGlyphs" fill="#000" stroke="#000" stroke-width="0.7" stroke-linejoin="round">PRE-INSTALLED SOLAR PANEL</text><text x="902.15" y="265.00" font-size="20.06" text-anchor="middle" textLength="207.10" lengthAdjust="spacingAndGlyphs" fill="#000" stroke="#000" stroke-width="0.7" stroke-linejoin="round">30 AMP CONTROLLER</text><text x="902.65" y="285.00" font-size="20.35" text-anchor="middle" textLength="173.70" lengthAdjust="spacingAndGlyphs" fill="#000" stroke="#000" stroke-width="0.7" stroke-linejoin="round">&amp; INVERTER PREP</text><text x="562.40" y="82.40" font-size="19.77" text-anchor="middle" textLength="80.80" lengthAdjust="spacingAndGlyphs" fill="#333" stroke="#333" stroke-width="2.2" stroke-linejoin="round" opacity="0.85">THEATER</text><text x="562.40" y="82.40" font-size="19.77" text-anchor="middle" textLength="80.80" lengthAdjust="spacingAndGlyphs" fill="#fff" stroke="#fff" stroke-width="0.55" stroke-linejoin="round">THEATER</text><text x="562.15" y="100.80" font-size="18.31" text-anchor="middle" textLength="77.50" lengthAdjust="spacingAndGlyphs" fill="#333" stroke="#333" stroke-width="2.2" stroke-linejoin="round" opacity="0.85">SEATING</text><text x="562.15" y="100.80" font-size="18.31" text-anchor="middle" textLength="77.50" lengthAdjust="spacingAndGlyphs" fill="#fff" stroke="#fff" stroke-width="0.55" stroke-linejoin="round">SEATING</text><text x="562.30" y="119.20" font-size="18.31" text-anchor="middle" textLength="67.40" lengthAdjust="spacingAndGlyphs" fill="#333" stroke="#333" stroke-width="2.2" stroke-linejoin="round" opacity="0.85">OPTION</text><text x="562.30" y="119.20" font-size="18.31" text-anchor="middle" textLength="67.40" lengthAdjust="spacingAndGlyphs" fill="#fff" stroke="#fff" stroke-width="0.55" stroke-linejoin="round">OPTION</text><text x="572.65" y="286.60" font-size="19.04" text-anchor="middle" textLength="49.30" lengthAdjust="spacingAndGlyphs" fill="#333" stroke="#333" stroke-width="2.2" stroke-linejoin="round" opacity="0.85">SOFA</text><text x="572.65" y="286.60" font-size="19.04" text-anchor="middle" textLength="49.30" lengthAdjust="spacingAndGlyphs" fill="#fff" stroke="#fff" stroke-width="0.55" stroke-linejoin="round">SOFA</text><text x="167.25" y="368.80" font-size="18.17" text-anchor="middle" textLength="81.10" lengthAdjust="spacingAndGlyphs" fill="#000" stroke="#000" stroke-width="0.7" stroke-linejoin="round">SHOWER</text><text x="294.65" y="369.00" font-size="19.62" text-anchor="middle" textLength="69.30" lengthAdjust="spacingAndGlyphs" fill="#333" stroke="#333" stroke-width="2.2" stroke-linejoin="round" opacity="0.85">FRIDGE</text><text x="294.65" y="369.00" font-size="19.62" text-anchor="middle" textLength="69.30" lengthAdjust="spacingAndGlyphs" fill="#fff" stroke="#fff" stroke-width="0.55" stroke-linejoin="round">FRIDGE</text><text x="449.50" y="476.60" font-size="23.11" text-anchor="middle" textLength="84.00" lengthAdjust="spacingAndGlyphs" fill="#000" stroke="#000" stroke-width="0.7" stroke-linejoin="round">CENTRAL</text><text x="450.00" y="500.60" font-size="23.11" text-anchor="middle" textLength="37.00" lengthAdjust="spacingAndGlyphs" fill="#000" stroke="#000" stroke-width="0.7" stroke-linejoin="round">VAC</text><text x="449.55" y="647.40" font-size="21.66" text-anchor="middle" textLength="61.90" lengthAdjust="spacingAndGlyphs" fill="#333" stroke="#333" stroke-width="2.2" stroke-linejoin="round" opacity="0.85">MICRO</text><text x="449.55" y="647.40" font-size="21.66" text-anchor="middle" textLength="61.90" lengthAdjust="spacingAndGlyphs" fill="#fff" stroke="#fff" stroke-width="0.55" stroke-linejoin="round">MICRO</text><text x="588.00" y="645.60" font-size="20.20" text-anchor="middle" textLength="38.40" lengthAdjust="spacingAndGlyphs" fill="#333" stroke="#333" stroke-width="2.2" stroke-linejoin="round" opacity="0.85">OHC</text><text x="588.00" y="645.60" font-size="20.20" text-anchor="middle" textLength="38.40" lengthAdjust="spacingAndGlyphs" fill="#fff" stroke="#fff" stroke-width="0.55" stroke-linejoin="round">OHC</text><text x="750.55" y="643.60" font-size="19.77" text-anchor="middle" textLength="22.10" lengthAdjust="spacingAndGlyphs" fill="#000" stroke="#000" stroke-width="0.7" stroke-linejoin="round">TV</text><text x="1043.95" y="343.80" font-size="20.06" text-anchor="middle" textLength="55.30" lengthAdjust="spacingAndGlyphs" fill="#333" stroke="#333" stroke-width="2.2" stroke-linejoin="round" opacity="0.85">WARD</text><text x="1043.95" y="343.80" font-size="20.06" text-anchor="middle" textLength="55.30" lengthAdjust="spacingAndGlyphs" fill="#fff" stroke="#fff" stroke-width="0.55" stroke-linejoin="round">WARD</text><text x="1044.00" y="648.25" font-size="21.08" text-anchor="middle" textLength="56.00" lengthAdjust="spacingAndGlyphs" fill="#333" stroke="#333" stroke-width="2.2" stroke-linejoin="round" opacity="0.85">WARD</text><text x="1044.00" y="648.25" font-size="21.08" text-anchor="middle" textLength="56.00" lengthAdjust="spacingAndGlyphs" fill="#fff" stroke="#fff" stroke-width="0.55" stroke-linejoin="round">WARD</text><text x="923.80" y="481.00" font-size="19.48" text-anchor="middle" textLength="70.40" lengthAdjust="spacingAndGlyphs" fill="#000" stroke="#000" stroke-width="0.7" stroke-linejoin="round">60 X 80</text><text x="923.50" y="500.00" font-size="18.90" text-anchor="middle" textLength="107.00" lengthAdjust="spacingAndGlyphs" fill="#000" stroke="#000" stroke-width="0.7" stroke-linejoin="round">QUEEN BED</text><text x="0.00" y="0.00" font-size="22.24" text-anchor="middle" textLength="39.00" lengthAdjust="spacingAndGlyphs" transform="translate(1074.50,485.50) rotate(90)" fill="#333" stroke="#333" stroke-width="2.2" stroke-linejoin="round" opacity="0.85">OHC</text><text x="0.00" y="0.00" font-size="22.24" text-anchor="middle" textLength="39.00" lengthAdjust="spacingAndGlyphs" transform="translate(1074.50,485.50) rotate(90)" fill="#fff" stroke="#fff" stroke-width="0.55" stroke-linejoin="round">OHC</text><text x="0.00" y="0.00" font-size="12.79" text-anchor="middle" textLength="234.00" lengthAdjust="spacingAndGlyphs" transform="translate(1205.80,486.00) rotate(-90)" fill="#000" stroke="#000" stroke-width="0.7" stroke-linejoin="round">FOREST RIVER</text><text x="0.00" y="0.00" font-size="22.67" text-anchor="middle" textLength="82.20" lengthAdjust="spacingAndGlyphs" transform="translate(110.20,619.60) rotate(-90)" fill="#333" stroke="#333" stroke-width="2.2" stroke-linejoin="round" opacity="0.85">SHELVES</text><text x="0.00" y="0.00" font-size="22.67" text-anchor="middle" textLength="82.20" lengthAdjust="spacingAndGlyphs" transform="translate(110.20,619.60) rotate(-90)" fill="#fff" stroke="#fff" stroke-width="0.55" stroke-linejoin="round">SHELVES</text><text x="181.85" y="626.30" font-size="21.95" text-anchor="middle" textLength="53.70" lengthAdjust="spacingAndGlyphs" fill="#333" stroke="#333" stroke-width="2.2" stroke-linejoin="round" opacity="0.85">LINEN</text><text x="181.85" y="626.30" font-size="21.95" text-anchor="middle" textLength="53.70" lengthAdjust="spacingAndGlyphs" fill="#fff" stroke="#fff" stroke-width="0.55" stroke-linejoin="round">LINEN</text><text x="0.00" y="0.00" font-size="20.79" text-anchor="middle" textLength="41.80" lengthAdjust="spacingAndGlyphs" transform="translate(84.90,455.40) rotate(-90)" fill="#fff" stroke="#fff" stroke-width="0.5" stroke-linejoin="round">MED</text><text x="0.00" y="0.00" font-size="21.80" text-anchor="middle" textLength="73.10" lengthAdjust="spacingAndGlyphs" transform="translate(14.40,404.95) rotate(-90)" fill="#000" stroke="#000" stroke-width="0.7" stroke-linejoin="round">LADDER</text><text x="0.00" y="0.00" font-size="20.93" text-anchor="middle" textLength="48.60" lengthAdjust="spacingAndGlyphs" transform="translate(33.00,404.70) rotate(-90)" fill="#000" stroke="#000" stroke-width="0.7" stroke-linejoin="round">PREP</text><text x="458.10" y="713.75" font-size="18.53" text-anchor="middle" textLength="74.20" lengthAdjust="spacingAndGlyphs" fill="#000" stroke="#000" stroke-width="0.7" stroke-linejoin="round">AWNING</text><text x="684.30" y="776.80" font-size="23.26" text-anchor="middle" textLength="100.60" lengthAdjust="spacingAndGlyphs" fill="#000" stroke="#000" stroke-width="0.7" stroke-linejoin="round">OUTSIDE</text><text x="684.10" y="801.20" font-size="23.55" text-anchor="middle" textLength="100.20" lengthAdjust="spacingAndGlyphs" fill="#000" stroke="#000" stroke-width="0.7" stroke-linejoin="round">KITCHEN</text><text x="1055.33" y="760.00" font-size="24.13" text-anchor="middle" textLength="146.85" lengthAdjust="spacingAndGlyphs" fill="#000" stroke="#000" stroke-width="0.7" stroke-linejoin="round">SLAM LATCH</text><text x="1055.95" y="785.00" font-size="24.42" text-anchor="middle" textLength="171.90" lengthAdjust="spacingAndGlyphs" fill="#000" stroke="#000" stroke-width="0.7" stroke-linejoin="round">CARGO DOORS</text><text x="979.40" y="809.30" font-size="24.27" text-anchor="middle" textLength="21.80" lengthAdjust="spacingAndGlyphs" fill="#000" stroke="#000" stroke-width="0.7" stroke-linejoin="round">W</text><line x1="1002.8" y1="792.6" x2="990.8" y2="812.6" stroke="#000" stroke-width="2.8"/><text x="1077.60" y="809.30" font-size="24.27" text-anchor="middle" textLength="129.40" lengthAdjust="spacingAndGlyphs" fill="#000" stroke="#000" stroke-width="0.7" stroke-linejoin="round">PASS-THRU</text><text x="1056.20" y="833.80" font-size="24.42" text-anchor="middle" textLength="106.40" lengthAdjust="spacingAndGlyphs" fill="#000" stroke="#000" stroke-width="0.7" stroke-linejoin="round">LIGHTING</text></svg>
</body></html>
